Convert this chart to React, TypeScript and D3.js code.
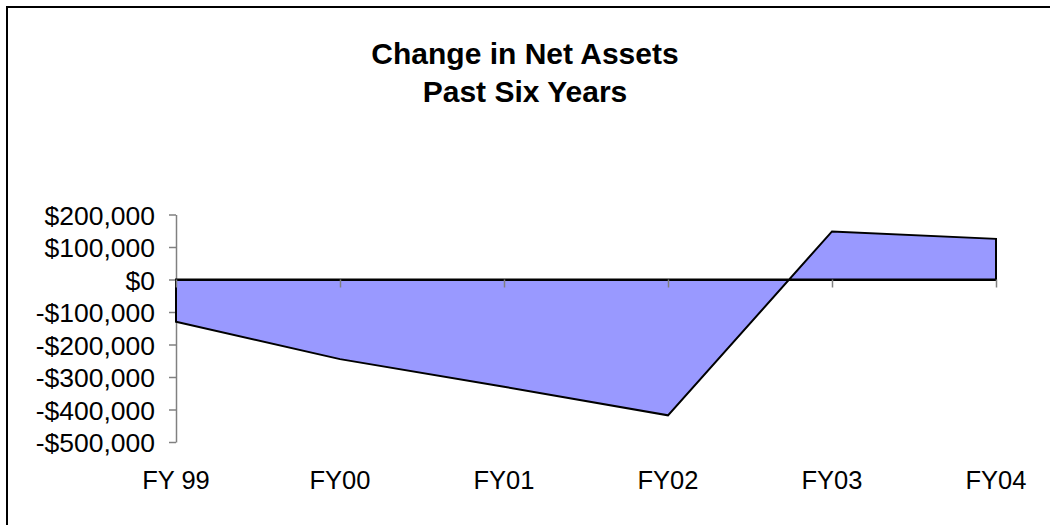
import React, { useRef, useEffect } from "react";
import * as d3 from "d3";

const annees = ["FY 99", "FY00", "FY01", "FY02", "FY03", "FY04"];
const variationActifs = [-130000, -245000, -330000, -418000, 148000, 125000];
const graduationsY = [200000, 100000, 0, -100000, -200000, -300000, -400000, -500000];
const titreLignes = ["Change in Net Assets", "Past Six Years"];

const App = () => {
  const svgRef = useRef<SVGSVGElement>(null);

  useEffect(() => {
    const svg = d3.select(svgRef.current);
    svg.selectAll("*").remove();

    // plot area bounds
    const gauche = 176,
      droite = 996,
      haut = 214.5,
      bas = 442;

    const x = d3.scalePoint().domain(annees).range([gauche, droite]).padding(0);
    const y = d3.scaleLinear().domain([-500000, 200000]).range([bas, haut]);

    // chart frame (only top and left edges visible)
    svg
      .append("rect")
      .attr("x", 7)
      .attr("y", 7)
      .attr("width", 1200)
      .attr("height", 700)
      .attr("fill", "none")
      .attr("stroke", "#000")
      .attr("stroke-width", 2);

    // title
    svg
      .append("g")
      .selectAll("text")
      .data(titreLignes)
      .join("text")
      .attr("x", 525)
      .attr("y", (d, i) => 63.5 + i * 38.5)
      .attr("text-anchor", "middle")
      .style("font-family", "'Liberation Sans', Arial, sans-serif")
      .style("font-weight", "bold")
      .style("font-size", "30px")
      .text((d) => d);

    // y axis
    const axeY = svg
      .append("g")
      .attr("transform", `translate(${gauche}, 0)`)
      .call(
        d3
          .axisLeft(y)
          .tickValues(graduationsY)
          .tickSize(7)
          .tickSizeOuter(0)
          .tickPadding(14)
          .tickFormat((d) => {
            const v = d as number;
            return (v < 0 ? "-$" : "$") + d3.format(",")(Math.abs(v));
          })
      );
    axeY.select(".domain").attr("stroke", "#808080").attr("stroke-width", 1.5);
    axeY.selectAll(".tick line").attr("stroke", "#808080").attr("stroke-width", 1.5);
    axeY
      .selectAll(".tick text")
      .attr("fill", "#000")
      .attr("dy", "0.36em")
      .style("font-family", "'Liberation Sans', Arial, sans-serif")
      .style("font-size", "26.5px");

    // area between series and zero
    const aire = d3
      .area<number>()
      .x((d, i) => x(annees[i]) as number)
      .y0(y(0))
      .y1((d) => y(d));

    svg
      .append("path")
      .datum(variationActifs)
      .attr("d", aire)
      .attr("fill", "#9999FF")
      .attr("stroke", "#000")
      .attr("stroke-width", 2)
      .attr("stroke-linejoin", "miter");

    // x axis on zero line
    const axeX = svg
      .append("g")
      .attr("transform", `translate(0, ${y(0)})`)
      .call(d3.axisBottom(x).tickSize(8).tickSizeOuter(0).tickFormat(() => ""));
    axeX.select(".domain").attr("stroke", "#000").attr("stroke-width", 2);
    axeX.selectAll(".tick line").attr("stroke", "#808080").attr("stroke-width", 1.5);

    // category labels at the bottom
    svg
      .append("g")
      .selectAll("text")
      .data(annees)
      .join("text")
      .attr("x", (d) => x(d) as number)
      .attr("y", 489)
      .attr("text-anchor", "middle")
      .style("font-family", "'Liberation Sans', Arial, sans-serif")
      .style("font-size", "25.5px")
      .text((d) => d);
  }, []);

  return (
    <svg
      ref={svgRef}
      width={1050}
      height={525}
      style={{ position: "absolute", left: 0, top: 0, background: "#fff" }}
    ></svg>
  );
};

export default App;
